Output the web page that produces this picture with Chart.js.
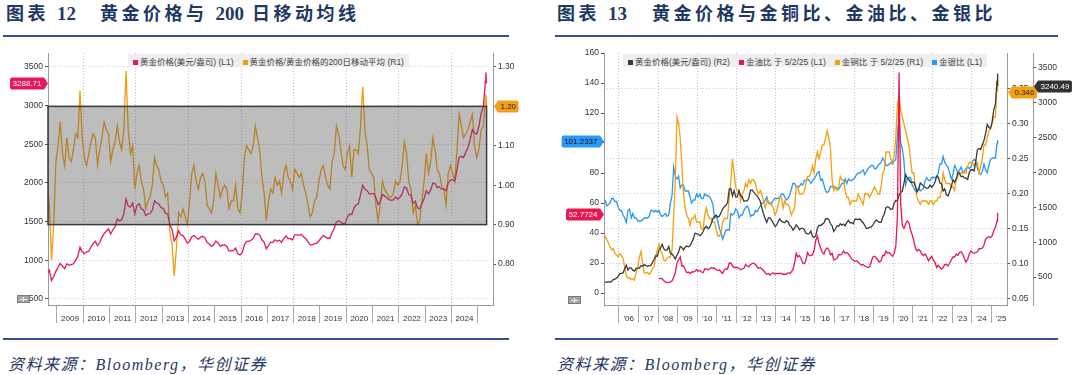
<!DOCTYPE html>
<html>
<head>
<meta charset="utf-8">
<script src="https://cdn.jsdelivr.net/npm/chart.js@4/dist/chart.umd.min.js"></script>
<style>
  body{margin:0;width:1080px;height:375px;background:#fff;position:relative;overflow:hidden;font-family:'Liberation Sans','Noto Sans CJK SC',sans-serif}
  .title{position:absolute;top:5px;line-height:18px;font-weight:bold;font-size:18px;letter-spacing:3.5px;font-family:'Liberation Serif','Noto Sans CJK SC',serif;color:#1f3864;white-space:nowrap}
  .title b{letter-spacing:0;font-size:19px}
  .rule{position:absolute;height:2px;background:#2f5496}
  .src{position:absolute;top:351px;font-style:italic;font-size:16px;letter-spacing:1.5px;font-family:'Liberation Serif','Noto Sans CJK SC',serif;color:#1f3864;white-space:nowrap}
  .legend{position:absolute;top:54px;height:13px;background:#eeeeee;font-size:8.5px;font-family:'Liberation Sans','Noto Sans CJK SC',sans-serif;color:#444;display:flex;align-items:center;padding:0 5px;gap:9px;white-space:nowrap;z-index:2}
  .legend i{display:inline-block;width:5px;height:5px;margin-right:2px}
  canvas{position:absolute}
</style>
</head>
<body>
<div class="title" style="left:6px">图表 <b>12</b></div>
<div class="title" style="left:100px">黄金价格与 <b>200</b> 日移动均线</div>
<div class="title" style="left:557px">图表 <b>13</b></div>
<div class="title" style="left:652px">黄金价格与金铜比、金油比、金银比</div>
<div class="rule" style="left:3px;width:506px;top:35px"></div>
<div class="rule" style="left:555px;width:503px;top:35px"></div>
<div class="rule" style="left:3px;width:506px;top:338px"></div>
<div class="rule" style="left:555px;width:503px;top:338px"></div>
<div class="src" style="left:8px">资料来源：Bloomberg，华创证券</div>
<div class="src" style="left:557px">资料来源：Bloomberg，华创证券</div>

<canvas id="c1" width="540" height="285" style="left:0;top:45px"></canvas>
<canvas id="c2" width="540" height="285" style="left:540px;top:45px"></canvas>
<div class="legend" id="lg1" style="left:128px"></div>
<div class="legend" id="lg2" style="left:623px"></div>

<script>
// ---------- data: 图表 12 (monthly from Aug 2008, then Apr/May 2025 tail) ----------
const L_START = [2008, 8];
const TAIL_DATES = [2025.307, 2025.334];

const goldL = [
  830, 870, 740, 790, 860,
  910, 960, 925, 890, 955, 935, 945, 955, 1000, 1050, 1170, 1110,
  1085, 1110, 1115, 1175, 1215, 1245, 1190, 1230, 1300, 1345, 1375, 1405,
  1340, 1395, 1430, 1535, 1510, 1525, 1600, 1790, 1700, 1690, 1740, 1600,
  1710, 1730, 1665, 1650, 1580, 1600, 1605, 1650, 1770, 1745, 1725, 1680,
  1670, 1610, 1600, 1460, 1400, 1250, 1300, 1380, 1330, 1320, 1275, 1220,
  1245, 1305, 1320, 1295, 1270, 1300, 1310, 1290, 1230, 1210, 1180, 1200,
  1250, 1225, 1180, 1195, 1200, 1180, 1120, 1125, 1125, 1160, 1085, 1070,
  1100, 1200, 1245, 1245, 1260, 1280, 1340, 1340, 1325, 1265, 1235, 1150,
  1190, 1235, 1230, 1265, 1245, 1260, 1235, 1285, 1315, 1280, 1280, 1265,
  1330, 1330, 1325, 1335, 1305, 1280, 1240, 1200, 1200, 1215, 1220, 1250,
  1290, 1320, 1300, 1285, 1285, 1360, 1410, 1500, 1510, 1495, 1470, 1480,
  1560, 1600, 1590, 1680, 1715, 1730, 1850, 1970, 1920, 1900, 1860, 1860,
  1865, 1810, 1720, 1760, 1850, 1830, 1805, 1785, 1775, 1780, 1820, 1790,
  1815, 1860, 1950, 1935, 1850, 1840, 1735, 1765, 1680, 1665, 1730, 1795,
  1900, 1860, 1910, 2000, 1990, 1940, 1950, 1920, 1920, 1900, 2000, 2040,
  2040, 2025, 2170, 2330, 2345, 2330, 2400, 2460, 2560, 2690, 2650, 2630,
  2730, 2900, 2980, 3320
];
const goldLTail = [3430, 3288.71];

const ratioL = [
  1.02, 0.95, 0.81, 0.90, 1.06,
  1.10, 1.16, 1.08, 1.05, 1.12, 1.07, 1.06, 1.09, 1.13, 1.12, 1.24, 1.12,
  1.07, 1.05, 1.08, 1.11, 1.13, 1.12, 1.05, 1.09, 1.12, 1.16, 1.14, 1.13,
  1.06, 1.09, 1.11, 1.15, 1.11, 1.09, 1.14, 1.29, 1.14, 1.08, 1.10, 0.99,
  1.03, 1.05, 1.01, 0.99, 0.94, 0.96, 0.97, 1.00, 1.07, 1.05, 1.04, 1.01,
  1.00, 0.97, 0.98, 0.88, 0.85, 0.77, 0.84, 0.93, 0.92, 0.94, 0.92, 0.90,
  0.96, 1.03, 1.05, 1.01, 0.99, 1.02, 1.03, 1.01, 0.95, 0.94, 0.93, 0.96,
  1.03, 1.00, 0.97, 0.99, 1.00, 0.99, 0.94, 0.96, 0.96, 1.00, 0.94, 0.93,
  0.98, 1.07, 1.10, 1.09, 1.08, 1.10, 1.15, 1.12, 1.09, 1.02, 0.98, 0.91,
  0.96, 0.99, 0.98, 1.02, 1.00, 1.01, 0.98, 1.03, 1.05, 1.02, 1.01, 0.99,
  1.04, 1.03, 1.02, 1.03, 1.00, 0.98, 0.95, 0.92, 0.93, 0.96, 0.97, 1.01,
  1.04, 1.05, 1.02, 1.00, 0.99, 1.06, 1.08, 1.15, 1.13, 1.09, 1.05, 1.04,
  1.08, 1.10, 1.02, 1.09, 1.09, 1.08, 1.15, 1.25, 1.14, 1.10, 1.04, 1.03,
  1.02, 0.95, 0.91, 0.95, 1.01, 0.99, 0.98, 0.97, 0.97, 0.98, 1.01, 1.00,
  1.01, 1.05, 1.11, 1.08, 1.01, 0.99, 0.93, 0.95, 0.90, 0.91, 0.96, 1.01,
  1.08, 1.03, 1.06, 1.12, 1.09, 1.04, 1.03, 1.00, 0.99, 0.95, 1.03, 1.05,
  1.03, 1.01, 1.09, 1.18, 1.15, 1.12, 1.13, 1.14, 1.16, 1.18, 1.10, 1.07,
  1.09, 1.14, 1.15, 1.22
];
const ratioLTail = [1.23, 1.20];

const L_YEARS = [2009, 2010, 2011, 2012, 2013, 2014, 2015, 2016, 2017, 2018, 2019, 2020, 2021, 2022, 2023, 2024, 2025];
const L_TICKS_L1 = [500, 1000, 1500, 2000, 2500, 3000, 3500];
const L_TICKS_R1 = [0.80, 0.90, 1.00, 1.10, 1.20, 1.30];
const L_BOX_R1 = [0.90, 1.20];

// ---------- data: 图表 13 (monthly from Apr 2005; 金油比 from Jan 2008) ----------
const R_START = [2005, 4];
const OIL_START = [2008, 1];

const goldR = [
  430, 425, 435, 425, 440, 465, 470, 485, 510,
  550, 555, 560, 620, 670, 600, 635, 630, 600, 585, 625, 630,
  630, 665, 655, 680, 665, 655, 665, 665, 710, 755, 805, 800,
  890, 920, 970, 905, 885, 890, 940, 840, 830, 800, 760, 815,
  860, 940, 925, 890, 930, 945, 935, 950, 995, 1045, 1130, 1125,
  1115, 1095, 1115, 1150, 1205, 1230, 1195, 1215, 1270, 1340, 1370, 1390,
  1360, 1375, 1425, 1480, 1510, 1530, 1570, 1760, 1770, 1665, 1740, 1650,
  1655, 1740, 1670, 1650, 1590, 1595, 1595, 1630, 1745, 1750, 1720, 1690,
  1670, 1630, 1590, 1490, 1410, 1340, 1285, 1350, 1350, 1315, 1275, 1225,
  1245, 1300, 1335, 1300, 1290, 1280, 1310, 1295, 1240, 1225, 1175, 1200,
  1250, 1225, 1180, 1200, 1200, 1180, 1130, 1120, 1125, 1160, 1085, 1070,
  1095, 1200, 1245, 1240, 1260, 1275, 1335, 1340, 1325, 1265, 1235, 1155,
  1190, 1235, 1230, 1265, 1245, 1260, 1235, 1285, 1315, 1280, 1280, 1265,
  1330, 1330, 1325, 1335, 1305, 1280, 1240, 1200, 1200, 1215, 1220, 1250,
  1290, 1320, 1300, 1285, 1285, 1360, 1410, 1500, 1510, 1495, 1470, 1480,
  1560, 1600, 1590, 1680, 1715, 1730, 1850, 1970, 1920, 1900, 1860, 1860,
  1865, 1810, 1720, 1760, 1850, 1830, 1805, 1785, 1775, 1780, 1820, 1790,
  1815, 1860, 1950, 1935, 1850, 1840, 1735, 1765, 1680, 1665, 1730, 1795,
  1900, 1860, 1910, 2000, 1990, 1940, 1950, 1920, 1920, 1900, 2000, 2040,
  2040, 2025, 2170, 2330, 2345, 2330, 2400, 2460, 2560, 2690, 2650, 2630,
  2730, 2900, 2980, 3320
];
const goldRTail = [3420, 3240.49];

const oilR = [
  9.5, 9.7, 9.4, 8.1, 7.2, 6.9, 7.1, 7.4, 8.1, 10.5, 13.5, 20,
  22, 24, 18, 18, 16, 13.5, 14, 13, 14, 14, 14.5, 15.5,
  14.5, 15, 14, 13.5, 16, 16, 15.5, 16, 17, 16.5, 16.5, 15.5,
  15, 15.5, 14, 13, 15.5, 16, 16, 20, 20, 18, 17, 17,
  17, 16.5, 15.5, 16, 16.5, 19, 18, 17.5, 19, 19.5, 20, 19,
  17.5, 16.5, 17, 16, 15, 13.5, 12.5, 13, 12, 13, 13.5, 12.5,
  13, 13, 13, 13, 12.5, 12.5, 12.5, 13.5, 13, 14, 15.5, 20,
  26.5, 24, 25, 23, 20, 19.5, 22, 27, 25, 25, 25.5, 28.5,
  35, 38, 33, 30, 27, 26, 29, 30, 29, 25.5, 26.5, 22,
  22.5, 23, 25.5, 25.5, 26, 28, 26.5, 27, 26, 24.5, 22.5, 22,
  21, 21.5, 20.5, 19.5, 18.5, 19, 18, 17.5, 17, 17.5, 21, 24,
  24.5, 23.5, 22, 20.5, 21.5, 25, 25, 28, 26.5, 27, 25.5, 24.5,
  26.5, 31, 51, 147, 60, 45, 43, 46, 48, 47, 42, 39,
  35, 30, 28, 29, 28, 26, 25, 26, 24, 21.5, 23, 24.5,
  22, 20.5, 17, 18.5, 17, 16, 17, 19, 19, 18, 20, 22,
  24, 24, 26, 25, 27, 27.5, 26, 23, 20.5, 22.5, 26, 28,
  27, 26.5, 27, 27.5, 29.5, 29.5, 30, 32, 36, 37, 37.5, 37,
  38, 41.5, 44, 48
];
const oilRTail = [53.5, 52.7724];

const copperR = [
  0.14, 0.135, 0.13, 0.125, 0.12, 0.122, 0.115, 0.113, 0.11,
  0.115, 0.112, 0.108, 0.095, 0.083, 0.08, 0.08, 0.078, 0.079, 0.077, 0.088, 0.095,
  0.11, 0.118, 0.1, 0.087, 0.087, 0.088, 0.085, 0.088, 0.093, 0.096, 0.11, 0.12,
  0.128, 0.118, 0.115, 0.105, 0.105, 0.108, 0.11, 0.11, 0.12, 0.17, 0.22, 0.31,
  0.3, 0.28, 0.24, 0.2, 0.18, 0.17, 0.165, 0.155, 0.165, 0.165, 0.17, 0.16,
  0.16, 0.16, 0.15, 0.15, 0.17, 0.18, 0.17, 0.165, 0.165, 0.16, 0.16, 0.15,
  0.14, 0.14, 0.145, 0.16, 0.165, 0.165, 0.165, 0.195, 0.22, 0.25, 0.23, 0.21,
  0.205, 0.205, 0.19, 0.2, 0.205, 0.215, 0.21, 0.22, 0.215, 0.22, 0.22, 0.215,
  0.205, 0.2, 0.205, 0.2, 0.19, 0.18, 0.19, 0.19, 0.185, 0.185, 0.18, 0.17,
  0.175, 0.185, 0.195, 0.195, 0.18, 0.19, 0.185, 0.185, 0.18, 0.17, 0.175, 0.18,
  0.21, 0.21, 0.2, 0.2, 0.2, 0.205, 0.215, 0.225, 0.225, 0.23, 0.24, 0.23,
  0.25, 0.26, 0.25, 0.26, 0.27, 0.27, 0.28, 0.29, 0.28, 0.265, 0.22, 0.205,
  0.21, 0.205, 0.21, 0.225, 0.22, 0.22, 0.205, 0.195, 0.195, 0.185, 0.19, 0.19,
  0.19, 0.19, 0.2, 0.195, 0.19, 0.185, 0.2, 0.2, 0.2, 0.195, 0.2, 0.205,
  0.21, 0.205, 0.2, 0.2, 0.21, 0.23, 0.235, 0.26, 0.26, 0.26, 0.25, 0.245,
  0.255, 0.28, 0.33, 0.34, 0.32, 0.31, 0.3, 0.29, 0.28, 0.27, 0.25, 0.23,
  0.23, 0.21, 0.195, 0.19, 0.185, 0.19, 0.19, 0.19, 0.19, 0.185, 0.19, 0.19,
  0.185, 0.19, 0.19, 0.195, 0.195, 0.205, 0.23, 0.22, 0.215, 0.215, 0.215, 0.21,
  0.21, 0.205, 0.22, 0.225, 0.23, 0.23, 0.23, 0.23, 0.23, 0.24, 0.245, 0.245,
  0.245, 0.24, 0.245, 0.245, 0.23, 0.24, 0.25, 0.27, 0.27, 0.28, 0.29, 0.295,
  0.3, 0.31, 0.31, 0.36
];
const copperRTail = [0.37, 0.346];

const silverR = [
  62, 58, 59, 60, 63, 63, 61, 61, 57,
  55, 55, 52, 50, 47, 55, 56, 50, 53, 50, 50, 48,
  48, 48, 49, 50, 50, 50, 51, 55, 55, 54, 55, 54,
  55, 52, 51, 52, 53, 51, 52, 60, 65, 84, 78, 76,
  78, 70, 72, 72, 68, 68, 68, 64, 60, 62, 62, 66,
  64, 66, 63, 63, 66, 65, 65, 64, 62, 59, 50, 51,
  48, 43, 40, 36, 39, 42, 42, 42, 53, 52, 53, 56,
  55, 50, 52, 52, 55, 57, 58, 56, 51, 52, 52, 55,
  54, 56, 58, 60, 60, 62, 64, 60, 60, 60, 62, 63,
  63, 63, 64, 66, 66, 64, 62, 63, 65, 69, 73, 73,
  71, 71, 71, 73, 72, 75, 75, 76, 75, 73, 75, 76,
  78, 80, 81, 75, 76, 72, 68, 67, 68, 71, 71, 71,
  70, 70, 69, 71, 73, 73, 76, 73, 76, 75, 75, 76,
  77, 79, 80, 80, 81, 82, 79, 81, 83, 84, 85, 85,
  83, 83, 85, 86, 87, 90, 88, 85, 85, 86, 87, 86,
  88, 89, 105, 117, 100, 96, 88, 72, 76, 77, 77, 72,
  70, 68, 68, 70, 68, 69, 70, 75, 77, 75, 75, 77,
  77, 77, 77, 80, 86, 86, 91, 87, 85, 84, 80, 76,
  79, 85, 83, 80, 82, 84, 80, 81, 83, 84, 83, 84,
  88, 89, 88, 83, 80, 79, 81, 86, 82, 80, 85, 89,
  90, 90, 90, 100
];
const silverRTail = [102, 101.2337];

const R_YEARS = [2006, 2007, 2008, 2009, 2010, 2011, 2012, 2013, 2014, 2015, 2016, 2017, 2018, 2019, 2020, 2021, 2022, 2023, 2024, 2025];
const R_TICKS_L1 = [0, 20, 40, 60, 80, 100, 120, 140, 160];
const R_TICKS_R1 = [0.05, 0.10, 0.15, 0.20, 0.25, 0.30, 0.35];
const R_TICKS_R2 = [500, 1000, 1500, 2000, 2500, 3000, 3500];

// ---------- helpers ----------
const FONT = "'Liberation Sans', Arial, sans-serif";

function series(start, vals, tail) {
  const pts = vals.map((v, i) => {
    const k = start[1] - 1 + i;
    return {x: start[0] + Math.floor(k / 12) + ((k % 12) + 0.5) / 12, y: v};
  });
  tail.forEach((v, i) => pts.push({x: TAIL_DATES[i], y: v}));
  return pts;
}

function yAxis(pos, min, max, ticks, width, fmt, grid, weight) {
  return {
    type: 'linear', position: pos, min, max, weight: weight || 0,
    afterBuildTicks: s => { s.ticks = ticks.map(v => ({value: v})); },
    afterFit: s => { s.width = width; s.paddingTop = 0; s.paddingBottom = 0; },
    grid: {drawOnChartArea: !!grid, color: '#cfcfcf', tickColor: '#555', tickLength: 3},
    border: {color: '#9a9a9a', dash: [1, 2]},
    ticks: {font: {family: FONT, size: 8.5}, color: '#333', padding: 2, autoSkip: false, callback: fmt}
  };
}

function xAxis(min, max, years, fmt, offset) {
  return {
    type: 'linear', position: 'bottom', min, max,
    afterBuildTicks: s => { s.ticks = years.map(v => ({value: v})); },
    afterFit: s => { s.height = 25; s.paddingLeft = 0; s.paddingRight = 0; },
    grid: {
      color: c => (c.tick && c.tick.value % 2 === 0) ? '#c4c4c4' : 'rgba(0,0,0,0)',
      tickColor: '#aaa', tickLength: 18
    },
    border: {color: '#9a9a9a', dash: [1, 2]},
    ticks: {font: {family: FONT, size: 8}, color: '#333', padding: -9, labelOffset: offset,
            maxRotation: 0, minRotation: 0, autoSkip: false, callback: fmt}
  };
}

function drawTag(ctx, chart, t) {
  const s = chart.scales[t.axis];
  const y = Math.round(s.getPixelForValue(t.value)) + 0.5;
  ctx.save();
  ctx.font = '8px ' + FONT;
  const w = ctx.measureText(t.text).width + 5, h = 12, a = 4, r = 2;
  const left = s.position === 'left';
  const tip = left ? s.right : s.left + 1;
  const x0 = left ? tip - a - w : tip + a, x1 = x0 + w;
  ctx.beginPath();
  if (left) {
    ctx.moveTo(x0 + r, y - h / 2); ctx.lineTo(x1, y - h / 2); ctx.lineTo(tip, y);
    ctx.lineTo(x1, y + h / 2); ctx.lineTo(x0 + r, y + h / 2);
    ctx.quadraticCurveTo(x0, y + h / 2, x0, y + h / 2 - r); ctx.lineTo(x0, y - h / 2 + r);
    ctx.quadraticCurveTo(x0, y - h / 2, x0 + r, y - h / 2);
  } else {
    ctx.moveTo(x1 - r, y - h / 2); ctx.lineTo(x0, y - h / 2); ctx.lineTo(tip, y);
    ctx.lineTo(x0, y + h / 2); ctx.lineTo(x1 - r, y + h / 2);
    ctx.quadraticCurveTo(x1, y + h / 2, x1, y + h / 2 - r); ctx.lineTo(x1, y - h / 2 + r);
    ctx.quadraticCurveTo(x1, y - h / 2, x1 - r, y - h / 2);
  }
  ctx.closePath();
  ctx.fillStyle = t.bg; ctx.fill();
  ctx.fillStyle = t.fg; ctx.textAlign = 'center'; ctx.textBaseline = 'middle';
  ctx.fillText(t.text, (x0 + x1) / 2, y + 0.5);
  ctx.restore();
}

const decor = {
  id: 'decor',
  afterDatasetsDraw(chart, args, o) {
    if (!o.box) return;
    const {ctx, chartArea: ca, scales} = chart;
    const x1 = ca.left, x2 = scales.x.getPixelForValue(o.box.xEnd);
    const ya = scales[o.box.axis];
    const y1 = ya.getPixelForValue(o.box.range[1]), y2 = ya.getPixelForValue(o.box.range[0]);
    ctx.save();
    ctx.fillStyle = 'rgba(90,90,90,0.4)';
    ctx.fillRect(x1, y1, x2 - x1, y2 - y1);
    ctx.strokeStyle = '#3c3c3c'; ctx.lineWidth = 1.5;
    ctx.strokeRect(x1, y1, x2 - x1, y2 - y1);
    ctx.restore();
  },
  afterDraw(chart, args, o) {
    const ctx = chart.ctx;
    (o.tags || []).forEach(t => drawTag(ctx, chart, t));
    if (o.icon) {
      ctx.save();
      ctx.fillStyle = '#a5a5a5'; ctx.strokeStyle = '#7a7a7a'; ctx.lineWidth = 1;
      ctx.fillRect(o.icon[0], o.icon[1], 13, 8);
      ctx.strokeRect(o.icon[0] + 0.5, o.icon[1] + 0.5, 12, 7);
      ctx.strokeStyle = '#eee';
      ctx.beginPath();
      ctx.moveTo(o.icon[0] + 3, o.icon[1] + 4.5); ctx.lineTo(o.icon[0] + 10, o.icon[1] + 4.5);
      ctx.moveTo(o.icon[0] + 6.5, o.icon[1] + 2); ctx.lineTo(o.icon[0] + 6.5, o.icon[1] + 7);
      ctx.stroke();
      ctx.restore();
    }
  }
};

function line(label, data, axis, color, order) {
  return {label, data, yAxisID: axis, borderColor: color, backgroundColor: color,
          borderWidth: 1.3, pointRadius: 0, tension: 0, order};
}

function legend(id, chart) {
  document.getElementById(id).innerHTML = chart.data.datasets
    .map(d => `<span><i style="background:${d.borderColor}"></i>${d.label}</span>`).join('');
}

const common = {
  responsive: false, animation: false, events: [],
  layout: {padding: {top: 8, left: 0, right: 0, bottom: 0}},
  plugins: {legend: {display: false}, tooltip: {enabled: false}}
};

// ---------- 图表 12 ----------
const c1 = new Chart(document.getElementById('c1'), {
  type: 'line',
  data: {datasets: [
    line('黄金价格(美元/盎司) (L1)', series(L_START, goldL, goldLTail), 'y', '#e8175d', 0),
    line('黄金价格/黄金价格的200日移动平均 (R1)', series(L_START, ratioL, ratioLTail), 'y1', '#f29d0b', 1)
  ]},
  options: {
    ...common,
    plugins: {...common.plugins, decor: {
      box: {axis: 'y1', range: L_BOX_R1, xEnd: TAIL_DATES[1]},
      tags: [
        {axis: 'y', value: goldLTail[1], text: goldLTail[1].toFixed(2), bg: '#e8175d', fg: '#fff'},
        {axis: 'y1', value: ratioLTail[1], text: ratioLTail[1].toFixed(2), bg: '#f2a01a', fg: '#222'}
      ],
      icon: [17, 250]
    }},
    scales: {
      x: xAxis(2008.658, 2025.578, L_YEARS, v => v <= 2024 ? String(v) : '', 13),
      y: yAxis('left', 422, 3681, L_TICKS_L1, 48, v => String(v), true),
      y1: yAxis('right', 0.696, 1.3355, L_TICKS_R1, 47, v => v.toFixed(2), false)
    }
  },
  plugins: [decor]
});
legend('lg1', c1);

// ---------- 图表 13 ----------
const c2 = new Chart(document.getElementById('c2'), {
  type: 'line',
  data: {datasets: [
    line('黄金价格(美元/盎司) (R2)', series(R_START, goldR, goldRTail), 'y2', '#3a3a3a', 1),
    line('金油比 于 5/2/25 (L1)', series(OIL_START, oilR, oilRTail), 'y', '#e8174f', 0),
    line('金铜比 于 5/2/25 (R1)', series(R_START, copperR, copperRTail), 'y1', '#f5a00f', 2),
    line('金银比 (L1)', series(R_START, silverR, silverRTail), 'y', '#2a98f5', 3)
  ]},
  options: {
    ...common,
    plugins: {...common.plugins, decor: {
      tags: [
        {axis: 'y', value: silverRTail[1], text: silverRTail[1].toFixed(4), bg: '#2a98f5', fg: '#111'},
        {axis: 'y', value: oilRTail[1], text: oilRTail[1].toFixed(4), bg: '#e8174f', fg: '#fff'},
        {axis: 'y1', value: copperRTail[1], text: copperRTail[1].toFixed(3), bg: '#f5a00f', fg: '#222'},
        {axis: 'y2', value: goldRTail[1], text: goldRTail[1].toFixed(2), bg: '#333333', fg: '#fff'}
      ],
      icon: [28, 251]
    }},
    scales: {
      x: xAxis(2005.235, 2025.8, R_YEARS, v => "'" + String(v).slice(2), 9.8),
      y: yAxis('left', -8, 160, R_TICKS_L1, 64, v => String(v), false),
      y1: yAxis('right', 0.0414, 0.4014, R_TICKS_R1, 26, v => v.toFixed(2), true, 0),
      y2: yAxis('right', 100, 3715, R_TICKS_R2, 47, v => String(v), false, 1)
    }
  },
  plugins: [decor]
});
legend('lg2', c2);
</script>
</body>
</html>
